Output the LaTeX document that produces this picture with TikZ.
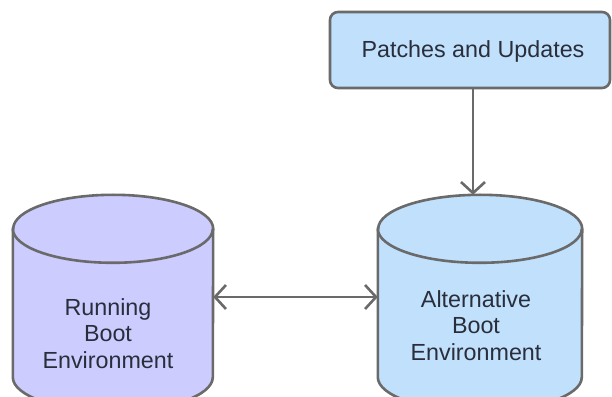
\documentclass[tikz,border=0pt]{standalone}
\usepackage{fontspec}
\setmainfont{Liberation Sans}
\usetikzlibrary{arrows.meta}

\definecolor{edgegray}{HTML}{6A6A6A}
\definecolor{runfill}{HTML}{CCCCFF}
\definecolor{altfill}{HTML}{C0E0FC}
\definecolor{txt}{HTML}{2A2E3A}

\tikzset{
  >={Straight Barb[length=11pt,width=24pt]},
  disk/.style={rectangle,minimum height=216pt,inner sep=0pt},
  rim/.style={draw=edgegray,line width=2.6pt},
  lbl/.style={align=center,text=txt,font=\fontsize{23.3}{26.5}\selectfont,inner sep=0pt},
  arr/.style={draw=edgegray,line width=2.6pt}
}

\begin{document}
\begin{tikzpicture}[x=1pt,y=1pt]
  \useasboundingbox (0,0) rectangle (612,396);
  \node[disk,minimum width=200pt] (run) at (113,93) {};
  \node[disk,minimum width=204pt] (alt) at (480,93) {};
  \begin{scope}
  \clip (0,0) rectangle (612,396);
  \foreach \n/\c/\r in {run/runfill/100,alt/altfill/102} {
    \path[rim,fill=\c] ([yshift=-34pt]\n.north west) -- ([yshift=34pt]\n.south west)
      arc (180:360:\r pt and 34pt) -- ([yshift=-34pt]\n.north east)
      arc (0:180:\r pt and 34pt) -- cycle;
    \draw[rim] ([yshift=-34pt]\n.north west) arc (180:360:\r pt and 34pt);
  }
  \end{scope}
  \node[draw=edgegray,line width=2.6pt,fill=altfill,rounded corners=8pt,
        minimum width=280pt,minimum height=76pt] (patch) at (470,346) {};

  % texts
  \node[lbl,anchor=base] (patch-txt) at (473,338) {Patches and Updates};
  \node[lbl,anchor=base] (run-txt) at (108,28) {Running\\Boot\\Environment};
  \node[lbl,anchor=base] (alt-txt) at (476,36) {Alternative\\Boot\\Environment};

  % connectors
  \draw[arr,->] ([xshift=3pt]patch.south) -- ([xshift=3pt]patch.south |- alt.north);
  \draw[arr,<->] ([yshift=6pt]run.east) -- ([yshift=6pt]alt.west);
\end{tikzpicture}
\end{document}
